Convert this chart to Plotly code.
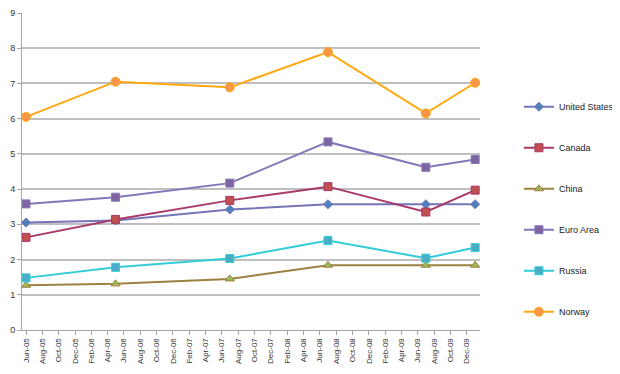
import plotly.graph_objects as go

dates = ["2005-06-01", "2006-05-01", "2007-07-01", "2008-07-01", "2009-07-01", "2010-01-01"]

series_names = ["United States", "Canada", "China", "Euro Area", "Russia", "Norway"]
united_states = [3.05, 3.11, 3.42, 3.57, 3.57, 3.57]
canada = [2.63, 3.14, 3.68, 4.07, 3.35, 3.97]
china = [1.27, 1.31, 1.45, 1.84, 1.84, 1.84]
euro_area = [3.58, 3.77, 4.17, 5.34, 4.62, 4.84]
russia = [1.48, 1.78, 2.03, 2.54, 2.04, 2.34]
norway = [6.05, 7.05, 6.89, 7.89, 6.15, 7.02]

values = [united_states, canada, china, euro_area, russia, norway]
line_colors = ["#7474B8", "#A8396A", "#9E8040", "#8078B8", "#33CCD6", "#FFA812"]
marker_colors = ["#4F81BD", "#C0504D", "#9BBB59", "#8064A2", "#4BACC6", "#F79646"]
symbols = ["diamond", "square", "triangle-up", "square", "square", "circle"]
msizes = [7, 8, 8, 8, 8, 9]

fig = go.Figure()
for name, vals, lc, mc, sym, ms in zip(series_names, values, line_colors, marker_colors, symbols, msizes):
    fig.add_trace(go.Scatter(
        x=dates, y=vals, name=name, mode="lines+markers",
        legendgroup=name,
        line=dict(color=lc, width=2),
        marker=dict(symbol=sym, size=ms, color=mc, line=dict(color=lc, width=1)),
    ))

fig.update_layout(
    width=612, height=366,
    margin=dict(l=14, r=140, t=5, b=44, autoexpand=False),
    paper_bgcolor="white", plot_bgcolor="white",
    font=dict(family="Liberation Sans, Arial, sans-serif", size=9, color="#333333"),
    showlegend=True,
    legend=dict(x=1.085, y=0.75, xanchor="left", yanchor="top",
                tracegroupgap=22, font=dict(size=9, color="#222222"),
                bgcolor="rgba(0,0,0,0)", itemwidth=30),
    xaxis=dict(
        type="date", range=["2005-05-17", "2010-01-19"], automargin=False,
        tickformat="%b-%y", dtick="M2", tick0="2005-06-01",
        tickangle=-90, tickfont=dict(size=8, color="#333333"),
        showgrid=False, showline=True, linecolor="#A6A6A6", linewidth=1,
        ticks="outside", ticklen=4, tickcolor="#A6A6A6",
    ),
    yaxis=dict(
        range=[0, 9], dtick=1, automargin=False,
        tickfont=dict(size=9, color="#333333"),
        showgrid=True, gridcolor="#BFBFBF", gridwidth=1.5,
        showline=True, linecolor="#A6A6A6", linewidth=1,
        ticks="outside", ticklen=4, tickcolor="#A6A6A6",
        zeroline=False,
    ),
)

fig.write_html("out.html")
